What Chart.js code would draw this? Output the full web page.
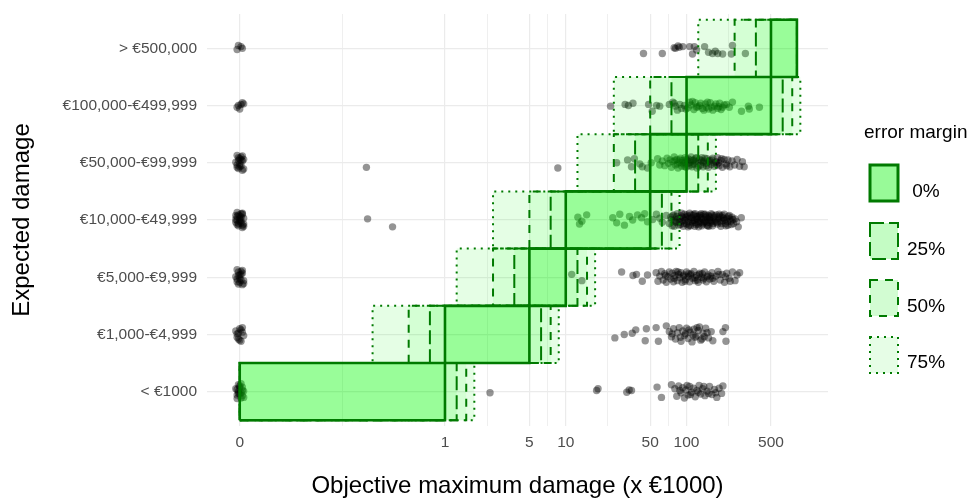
<!DOCTYPE html>
<html>
<head>
<meta charset="utf-8">
<script src="https://cdn.jsdelivr.net/npm/chart.js@4.4.1/dist/chart.umd.min.js"></script>
<style>
  html, body { margin: 0; padding: 0; background: #fff; }
  canvas { display: block; }
</style>
</head>
<body>
<canvas id="damageChart" width="973" height="502"></canvas>
<script>
// categories, bottom to top
const categories = ["< €1000", "€1,000-€4,999", "€5,000-€9,999", "€10,000-€49,999",
                    "€50,000-€99,999", "€100,000-€499,999", "> €500,000"];
// category bounds in x €1000 (top one is open, drawn to the plot limit)
const lowerBounds = [0, 1, 5, 10, 50, 100, 500];
const upperBounds = [1, 5, 10, 50, 100, 500, null];
const openUpperLimit = 820;

const margins = [0, 0.25, 0.5, 0.75];
const marginLabels = [" 0%", "25%", "50%", "75%"];

const xTickValues = [0, 1, 5, 10, 50, 100, 500];
const xTickLabels = ["0", "1", "5", "10", "50", "100", "500"];

// answers per category: [objective max damage (x €1000), vertical jitter]
const ptsLt1k = [
  [0, 0.10], [-0.002, -0.06], [0.002, 0.02], [-0.001, 0.12], [0.003, -0.10], [0.001, -0.02],
  [-0.003, 0.05], [0.002, 0.08], [-0.002, -0.12], [0, -0.04], [0.001, 0.14], [-0.001, 0],
  [0.002, -0.07], [-0.002, 0.04], [0, 0.07], [0.001, -0.11], [-0.001, -0.03], [0.003, 0.01],
  [2.36, -0.02], [18, 0.02], [18.5, 0.05], [32, -0.01], [33.5, 0.03], [35, 0.02], [57, 0.08],
  [62, -0.10], [75, 0.12], [80, 0.05], [83, -0.08], [86, 0.10], [90, -0.02], [93, 0.07],
  [96, -0.11], [99, 0.03], [103, -0.06], [106, 0.09], [110, -0.01], [114, 0.06], [118, -0.09],
  [122, 0.02], [127, 0.11], [131, -0.04], [136, 0.05], [142, -0.07], [148, 0.01], [155, 0.09],
  [162, -0.05], [170, 0.04], [178, -0.10], [186, 0.06], [195, -0.03], [200, 0.10],
  [88, 0.02], [101, 0.11], [108, -0.05], [125, -0.01], [139, 0.09], [152, -0.03], [174, -0.02]
];
const pts1to5k = [
  [0.001, 0.08], [-0.002, -0.05], [0.002, 0.12], [0, -0.10], [-0.001, 0.02], [0.003, -0.02],
  [-0.003, 0.06], [0.001, -0.12], [0.002, 0.04], [-0.001, -0.08], [0, 0.10], [-0.002, 0.01],
  [25.5, -0.06], [30.5, 0], [35.5, 0.02], [38, 0.08], [45.5, -0.11], [46.5, 0.10], [56, 0.12],
  [58.5, -0.12], [68, 0.15], [72, 0.05], [75, -0.04], [78, 0.10], [81, -0.08], [84, 0.03],
  [87, 0.12], [90, -0.12], [93, 0.06], [96, -0.02], [100, 0.11], [103, -0.07], [107, 0.04],
  [111, -0.13], [115, 0.09], [120, -0.03], [125, 0.07], [131, -0.10], [137, 0.02], [144, 0.11],
  [152, -0.06], [160, 0.05], [165, -0.11], [200, 0.05], [210, 0.12], [212, -0.12],
  [98, 0.01], [118, -0.05], [128, 0.13], [140, -0.04], [76, 0.01], [89, -0.05], [105, 0.08],
  [113, -0.01], [122, 0.12], [134, -0.08], [148, 0.03]
];
const pts5to10k = [
  [0.001, 0.05], [-0.002, -0.08], [0.002, 0.12], [0, -0.02], [-0.001, 0.09], [0.003, -0.11],
  [-0.003, 0.01], [0.001, -0.05], [-0.002, 0.13], [0.002, -0.13], [0, 0.04], [-0.001, -0.12],
  [0.002, 0.07], [-0.002, -0.03], [0.001, 0.1], [-0.001, 0.03], [0.003, -0.06], [0, -0.09],
  [11.2, 0.05], [13.6, -0.06], [29, 0.09], [36, 0.03], [38.5, 0.05], [43, -0.07], [47.5, 0.04],
  [56, 0.08], [58, -0.07], [60, 0.02], [62, 0.10], [64, -0.05], [66, 0.06], [68, -0.09],
  [70, 0.01], [72, 0.09], [74, -0.03], [76, 0.07], [78, -0.08], [80, 0.03], [82, 0.10],
  [84, -0.06], [86, 0.05], [88, -0.01], [90, 0.08], [92, -0.09], [95, 0.04], [98, -0.04],
  [100, 0.09], [103, 0.01], [106, -0.08], [109, 0.06], [112, -0.02], [115, 0.10], [118, -0.06],
  [121, 0.03], [125, -0.09], [129, 0.07], [133, 0], [137, -0.05], [141, 0.09], [146, -0.08],
  [151, 0.04], [156, -0.03], [162, 0.08], [168, -0.07], [175, 0.02], [182, 0.10], [190, -0.05],
  [198, 0.05], [206, -0.09], [215, 0.07], [225, -0.02], [240, 0.09], [252, -0.06], [262, 0.04],
  [275, 0.08], [94, 0.02], [104, 0.06], [117, -0.01], [127, 0.05], [139, -0.02], [159, 0.02],
  [67, 0.03], [79, -0.02], [85, 0.09], [97, -0.07], [108, 0.04], [123, -0.05], [135, 0.06],
  [148, 0.01], [165, -0.02], [185, 0.05], [210, 0.01], [230, -0.07]
];
const pts10to50k = [
  [0.001, 0.05], [-0.002, -0.08], [0.002, 0.12], [0, -0.02], [-0.001, 0.09], [0.003, -0.11],
  [-0.003, 0.01], [0.001, -0.05], [-0.002, 0.13], [0.002, -0.13], [0, 0.07], [-0.001, -0.10],
  [0.003, 0.03], [-0.003, -0.04], [0.002, 0.10], [-0.002, 0], [0.001, 0.11], [-0.001, -0.06],
  [0, 0.02], [0.002, -0.09], [-0.002, 0.06], [0.001, -0.01], [-0.003, 0.08], [0.003, -0.07],
  [0.227, 0.02], [0.367, -0.12],
  [12.6, 0.05], [13, -0.07], [13.6, -0.02], [14.9, 0.09], [24.5, 0.04], [26.4, -0.05], [28, 0.10],
  [30.6, -0.09], [33.7, 0.06], [35.8, 0], [39.3, 0.09], [42.4, 0.04], [45, 0.11], [47.5, -0.03],
  [52.4, 0.01], [56.3, 0.10], [60, 0.03], [63, -0.04], [68, 0.08],
  [72, -0.06], [74, 0.05], [76, -0.10], [78, 0.09], [80, 0], [82, -0.04], [84, 0.11], [86, -0.09],
  [88, 0.03], [90, 0.07], [92, -0.02], [94, -0.11], [96, 0.10], [98, 0.01], [100, -0.07],
  [102, 0.06], [104, -0.03], [106, 0.12], [108, -0.10], [110, 0.04], [112, -0.05], [114, 0.08],
  [116, -0.01], [118, 0.11], [120, -0.08], [122, 0.02], [124, 0.06], [126, -0.12], [128, 0.09],
  [130, -0.04], [133, 0.03], [136, -0.07], [139, 0.10], [142, -0.02], [145, 0.05], [148, -0.09],
  [151, 0.08], [154, 0], [157, -0.05], [160, 0.11], [164, -0.10], [168, 0.04], [172, -0.03],
  [176, 0.09], [180, -0.07], [184, 0.02], [188, 0.07], [192, -0.11], [196, 0.05], [200, -0.01],
  [205, 0.10], [210, -0.06], [215, 0.03], [220, -0.09], [226, 0.08], [232, -0.02], [238, 0.05],
  [245, -0.06], [252, 0.02], [260, -0.03], [284, 0.04], [268, -0.12],
  [75, 0.01], [79, -0.11], [83, 0.06], [87, -0.04], [91, 0.12], [95, -0.06], [99, 0.05],
  [105, -0.09], [109, 0.09], [113, 0], [117, -0.11], [121, 0.06], [127, -0.02], [132, 0.11],
  [138, -0.05], [144, 0.07], [150, -0.10], [156, 0.04], [162, -0.02], [170, 0.07], [178, -0.04],
  [186, 0.10], [194, -0.06], [202, 0.03], [212, -0.10], [222, 0.06], [235, -0.08],
  [77, 0.07], [81, -0.03], [85, 0.02], [89, -0.08], [93, 0.05], [97, -0.01], [101, 0.09],
  [103, -0.12], [107, 0.03], [111, -0.02], [115, 0.10], [119, -0.05], [123, 0.01], [125, -0.07],
  [129, 0.05], [131, 0.08], [134, -0.10], [137, 0.01], [140, -0.03], [143, 0.10], [147, -0.05],
  [149, 0.02], [153, -0.11], [155, 0.06], [159, -0.01], [163, 0.09], [166, -0.06], [174, 0],
  [182, 0.05], [190, -0.03], [198, 0.08], [208, 0], [218, -0.03], [228, 0.02], [242, 0.01]
];
const pts50to100k = [
  [0.001, 0.05], [-0.002, -0.08], [0.002, 0.12], [0, -0.02], [-0.001, 0.09], [0.003, -0.11],
  [-0.003, 0.01], [0.001, -0.05], [-0.002, 0.13], [0.002, -0.13], [0, 0.07], [-0.001, -0.10],
  [0.002, 0.03], [-0.002, -0.04], [0.001, 0.1], [-0.001, 0.04], [0, -0.07], [0.003, 0.06],
  [0.222, -0.08], [8.6, -0.09],
  [26.4, 0], [32.5, 0.05], [35, -0.07], [37, 0.07], [41, -0.02], [43, -0.07], [47.5, -0.09],
  [51, 0], [57.6, 0.07], [60, -0.04],
  [63, 0.03], [66, -0.05], [69, 0.08], [71, -0.01], [73, 0.05], [75, -0.08], [77, 0.02],
  [79, 0.10], [81, -0.04], [83, 0.06], [85, -0.09], [87, 0.01], [89, 0.08], [91, -0.06],
  [93, 0.04], [95, -0.02], [97, 0.09], [99, -0.08], [101, 0.03], [103, 0.07], [105, -0.05],
  [107, 0.01], [109, 0.10], [111, -0.07], [113, 0.04], [116, -0.02], [119, 0.08], [122, -0.09],
  [125, 0.02], [128, 0.06], [131, -0.04], [134, 0.09], [137, -0.07], [140, 0.03], [144, -0.01],
  [148, 0.07], [152, -0.08], [156, 0.04], [160, -0.03], [165, 0.08], [170, -0.06], [175, 0.02],
  [180, 0.09], [186, -0.05], [192, 0.04], [198, -0.08], [205, 0.06], [212, -0.02], [220, 0.05],
  [228, -0.07], [238, 0.03], [250, -0.04], [262, 0.06], [275, -0.06], [290, 0.02], [300, -0.07],
  [97, 0], [115, 0.05], [138, 0.01], [162, 0.05], [184, 0],
  [80, 0.04], [84, -0.02], [88, 0.05], [92, 0], [96, -0.06], [100, 0.06], [104, -0.01],
  [108, 0.05], [112, -0.03], [118, 0.02], [121, 0.09], [126, -0.06], [132, 0.04], [142, 0.08],
  [146, -0.05], [154, 0.02], [168, 0], [178, -0.03], [195, 0.07], [215, -0.05]
];
const pts100to500k = [
  [0.001, 0.02], [-0.002, -0.03], [0.002, 0.05], [0, -0.06], [-0.001, 0], [0.003, 0.03],
  [23.5, -0.01], [31, 0.02], [33, 0], [36, 0.04], [48.5, 0.02], [52, -0.10], [56.5, 0],
  [60, -0.01], [72, 0.02], [77, 0.06], [81, -0.01], [84, -0.08], [91, -0.05], [96, 0],
  [106, 0.06], [112, 0.07], [121, -0.03], [128, 0], [135, -0.05], [146, -0.03], [149, 0.06],
  [161, -0.03], [170, -0.01], [181, -0.05], [188, 0.04], [199, -0.03], [214, 0.02], [226, -0.03],
  [240, 0.06], [285, -0.10], [325, -0.01], [331, -0.06], [401, -0.03],
  [103, -0.04], [109, 0.01], [115, -0.07], [118, 0.05], [124, -0.02], [131, 0.04], [139, -0.08],
  [143, 0.03], [152, -0.06], [157, 0.05], [165, -0.08], [175, 0.03], [185, -0.02], [193, -0.07],
  [205, 0.01], [79, 0.04], [88, 0.02], [99, -0.06]
];
const ptsOver500k = [
  [0.001, 0.03], [-0.002, -0.02], [0.002, 0], [-0.001, 0.05],
  [44, -0.09], [63, -0.09], [79, 0.01], [81, 0], [85, 0.04], [87, 0.02], [93, 0.03], [106, 0.03],
  [112, -0.10], [116, 0.03], [121, -0.03], [141, 0.03], [152, -0.07], [164, -0.09], [173, -0.05],
  [181, -0.09], [199, -0.10], [235, -0.10], [240, 0.05], [307, -0.09]
];
const rowPoints = [ptsLt1k, pts1to5k, pts5to10k, pts10to50k, pts50to100k, pts100to500k, ptsOver500k];

// pseudo-log x axis (asinh, sigma = 0.02)
function tr(v) { return Math.asinh(v / 0.04) / Math.LN10; }

const boxStyles = [
  { fill: "rgba(0, 250, 0, 0.20)", dash: [], width: 2.6, key: "rgb(152, 250, 152)" },
  { fill: "rgba(0, 250, 0, 0.10)", dash: [14, 5], width: 2, key: "rgb(196, 252, 196)" },
  { fill: "rgba(0, 250, 0, 0.08)", dash: [8, 7], width: 2, key: "rgb(210, 252, 210)" },
  { fill: "rgba(0, 250, 0, 0.10)", dash: [2, 5], width: 2, key: "rgb(230, 253, 230)" }
];
const borderColor = "#007A00";

const datasets = [];

// points go underneath the boxes
rowPoints.forEach((pts, r) => {
  datasets.push({
    type: "scatter",
    data: pts.map(p => ({ x: tr(p[0]), y: r + 1 + p[1] })),
    pointRadius: 3.7,
    pointBackgroundColor: "rgba(0, 0, 0, 0.42)",
    pointBorderWidth: 0,
    order: 10
  });
});

margins.forEach((m, mi) => {
  categories.forEach((c, r) => {
    const lo = lowerBounds[r] * (1 - m);
    const hi = upperBounds[r] === null ? openUpperLimit : upperBounds[r] * (1 + m);
    const st = boxStyles[mi];
    datasets.push({
      type: "line",
      data: [
        { x: tr(lo), y: r + 0.5 }, { x: tr(hi), y: r + 0.5 },
        { x: tr(hi), y: r + 1.5 }, { x: tr(lo), y: r + 1.5 }, { x: tr(lo), y: r + 0.5 }
      ],
      fill: "shape",
      backgroundColor: st.fill,
      borderColor: borderColor,
      borderWidth: st.width,
      borderDash: st.dash,
      borderJoinStyle: "miter",
      pointRadius: 0,
      tension: 0,
      order: 1 + mi
    });
  });
});

const xMajor = xTickValues.map(tr);
const xGrid = xMajor.map((t, i) => ({ value: t, label: xTickLabels[i], minor: false }))
  .concat(xMajor.slice(1).map((t, i) => ({ value: (t + xMajor[i]) / 2, label: "", minor: true })))
  .sort((a, b) => a.value - b.value);

// legend drawn like the ggplot guide
const marginLegend = {
  id: "marginLegend",
  afterDraw(chart) {
    const ctx = chart.ctx;
    ctx.save();
    ctx.fillStyle = "#000";
    ctx.font = "19px 'Liberation Sans', Arial, sans-serif";
    ctx.textAlign = "left";
    ctx.textBaseline = "alphabetic";
    ctx.fillText("error margin", 864, 138);
    const keyTops = [165, 223, 280, 337];
    const baselines = [197, 255, 312, 368];
    boxStyles.forEach((st, i) => {
      ctx.fillStyle = st.key;
      ctx.fillRect(870, keyTops[i], 28, 36);
      ctx.strokeStyle = borderColor;
      ctx.lineWidth = i === 0 ? 3 : 2;
      ctx.setLineDash(st.dash);
      ctx.strokeRect(870, keyTops[i], 28, 36);
      ctx.setLineDash([]);
      ctx.fillStyle = "#000";
      ctx.fillText(marginLabels[i], 907, baselines[i]);
    });
    ctx.restore();
  }
};

const tickFont = { family: "'Liberation Sans', Arial, sans-serif", size: 15.5 };
const titleFont = { family: "'Liberation Sans', Arial, sans-serif", size: 24 };

new Chart(document.getElementById("damageChart"), {
  type: "scatter",
  data: { datasets: datasets },
  options: {
    responsive: false,
    animation: false,
    layout: { padding: { top: 14, right: 145, left: 0, bottom: 0 } },
    plugins: { legend: { display: false }, tooltip: { enabled: false } },
    scales: {
      x: {
        type: "linear",
        min: -0.271,
        max: 4.870,
        afterBuildTicks: scale => { scale.ticks = xGrid.map(t => ({ value: t.value })); },
        afterFit: scale => { scale.height = 76; },
        ticks: {
          autoSkip: false,
          maxRotation: 0,
          padding: 7,
          color: "#4D4D4D",
          font: tickFont,
          callback: (value, index) => xGrid[index] ? xGrid[index].label : ""
        },
        grid: {
          color: "#EBEBEB",
          lineWidth: ctx => (xGrid[ctx.index] && xGrid[ctx.index].minor) ? 0.8 : 1.2,
          drawTicks: false
        },
        border: { display: false },
        title: {
          display: true,
          text: "Objective maximum damage (x €1000)",
          color: "#000",
          font: titleFont,
          padding: { top: 0, bottom: 1 }
        }
      },
      y: {
        type: "linear",
        min: 0.4,
        max: 7.6,
        afterBuildTicks: scale => { scale.ticks = categories.map((c, i) => ({ value: i + 1 })); },
        afterFit: scale => {
          scale.width = 207;
          scale.paddingTop = 0;
          scale.paddingBottom = 0;
        },
        ticks: {
          padding: 10,
          color: "#4D4D4D",
          font: tickFont,
          callback: value => categories[Math.round(value) - 1] || ""
        },
        grid: { color: "#EBEBEB", lineWidth: 1.2, drawTicks: false },
        border: { display: false },
        title: {
          display: true,
          text: "Expected damage",
          color: "#000",
          font: titleFont,
          padding: { top: 8, bottom: 0 }
        }
      }
    }
  },
  plugins: [marginLegend]
});
</script>
</body>
</html>
